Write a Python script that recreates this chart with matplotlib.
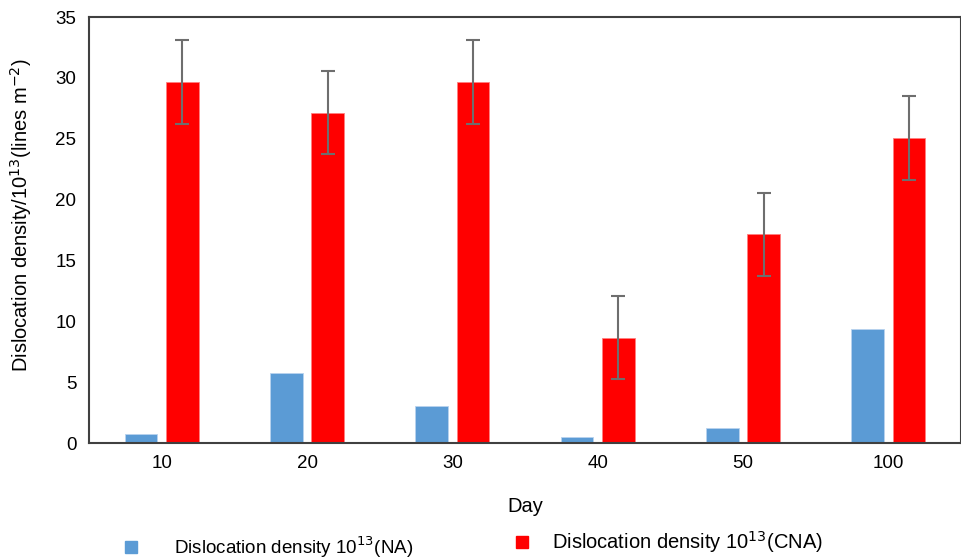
import matplotlib
matplotlib.use("Agg")
import matplotlib.pyplot as plt
import numpy as np
from matplotlib.lines import Line2D

plt.rcParams['font.family'] = ['Liberation Sans', 'DejaVu Sans']

days = ['10', '20', '30', '40', '50', '100']
na = [0.75, 5.78, 3.07, 0.47, 1.2, 9.34]
cna = [29.7, 27.14, 29.7, 8.65, 17.15, 25.06]
cna_err = [3.45, 3.43, 3.45, 3.43, 3.43, 3.43]

blue = '#5b9bd5'
red = '#ff0000'

fig = plt.figure(figsize=(9.62, 5.58), dpi=100)
ax = fig.add_axes([89/962, 1 - 443/558, (961-89)/962, (443-17)/558])

x = np.arange(len(days))
w = 0.225
ax.bar(x - 0.143, na, w, color=blue, edgecolor='#b8d3ee', linewidth=0.6)
ax.bar(x + 0.143, cna, w, color=red, edgecolor='#ff8080', linewidth=0.6,
       yerr=cna_err, error_kw=dict(ecolor='#6e6e6e', elinewidth=1.5, capsize=5, capthick=1.5))

ax.set_xlim(-0.5, len(days) - 0.5)
ax.set_ylim(0, 35)
ax.set_yticks(range(0, 36, 5))
ax.set_xticks(x)
ax.set_xticklabels(days)
ax.tick_params(length=0, labelsize=13.5, pad=9)
for s in ax.spines.values():
    s.set_color('#404040')
    s.set_linewidth(1.5)

ax.set_xlabel('Day', fontsize=14.5, labelpad=18)
ax.set_ylabel('Dislocation density/10$^{13}$(lines m$^{-2}$)', fontsize=14.5)
ax.yaxis.set_label_coords(-0.063, 0.535)

h1 = Line2D([], [], marker='s', ls='none', color=blue, markersize=8)
h2 = Line2D([], [], marker='s', ls='none', color=red, markersize=8)
leg1 = fig.legend([h1], ['Dislocation density 10$^{13}$(NA)'], loc='center left',
                  bbox_to_anchor=(112/962, 1 - 547/558), frameon=False, fontsize=13.5,
                  handletextpad=1.3, borderaxespad=0, borderpad=0)
leg2 = fig.legend([h2], ['Dislocation density 10$^{13}$(CNA)'], loc='center left',
                  bbox_to_anchor=(502/962, 1 - 542/558), frameon=False, fontsize=14.5,
                  handletextpad=0.5, borderaxespad=0, borderpad=0)

fig.savefig('out.png', dpi=100)
